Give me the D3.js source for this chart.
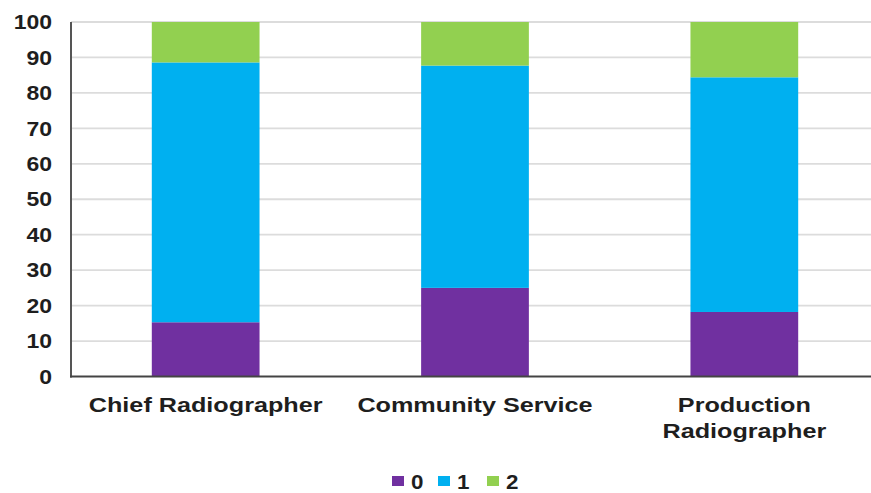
<!DOCTYPE html>
<html>
<head>
<meta charset="utf-8">
<script src="https://cdn.jsdelivr.net/npm/d3@7"></script>
<style>
	body { margin: 0; background: #fff; }
	text { font-family: "Liberation Sans", Arial, sans-serif; font-weight: bold; fill: #1e1e1e; }
</style>
</head>
<body>
<div id="wrapper"></div>
<script>
// Data
const categories = ['Chief Radiographer', 'Community Service', 'Production Radiographer']
const seriesKeys = ['0', '1', '2']
const values0 = [15.3, 25.0, 18.2]
const values1 = [73.3, 62.7, 66.2]
const values2 = [11.4, 12.3, 15.6]
const yTicks = [0, 10, 20, 30, 40, 50, 60, 70, 80, 90, 100]
const colors = ['#7030A0', '#00B0F0', '#92D050']

function drawChart() {
	const dimensions = {
		width: 871,
		height: 493,
		margin: { top: 22, right: -8, bottom: 116.5, left: 71 }
	}
	dimensions.boundedWidth = dimensions.width - dimensions.margin.left - dimensions.margin.right
	dimensions.boundedHeight = dimensions.height - dimensions.margin.top - dimensions.margin.bottom

	// text in the reference is stretched sideways
	const stretch = 1.2

	const rows = categories.map((c, i) => ({
		category: c,
		'0': values0[i],
		'1': values1[i],
		'2': values2[i]
	}))
	const stacked = d3.stack().keys(seriesKeys)(rows)

	const svg = d3.select('#wrapper')
		.append('svg')
			.attr('width', dimensions.width)
			.attr('height', dimensions.height)

	const bounds = svg.append('g')
		.attr('transform', `translate(${dimensions.margin.left},${dimensions.margin.top})`)

	// Scales
	const xScale = d3.scaleBand()
		.domain(categories)
		.range([0, dimensions.boundedWidth])
		.paddingInner(0.6)
		.paddingOuter(0.3)

	const yScale = d3.scaleLinear()
		.domain([0, 100])
		.range([dimensions.boundedHeight, 0])

	// Gridlines
	bounds.append('g')
		.selectAll('line')
		.data(yTicks.filter(d => d > 0))
		.join('line')
			.attr('x1', 0)
			.attr('x2', dimensions.width)
			.attr('y1', d => yScale(d))
			.attr('y2', d => yScale(d))
			.attr('stroke', '#dcdcdc')
			.attr('stroke-width', 1.8)

	// Bars
	bounds.append('g')
		.selectAll('g')
		.data(stacked)
		.join('g')
			.attr('fill', (d, i) => colors[i])
		.selectAll('rect')
		.data(d => d)
		.join('rect')
			.attr('x', d => xScale(d.data.category))
			.attr('width', xScale.bandwidth())
			.attr('y', d => yScale(d[1]))
			.attr('height', d => yScale(d[0]) - yScale(d[1]))

	// Axis lines
	bounds.append('line')
		.attr('x1', 0).attr('x2', 0)
		.attr('y1', yScale(100)).attr('y2', yScale(0) + 1)
		.attr('stroke', '#555').attr('stroke-width', 2)
	bounds.append('line')
		.attr('x1', -1).attr('x2', dimensions.width)
		.attr('y1', yScale(0)).attr('y2', yScale(0))
		.attr('stroke', '#444').attr('stroke-width', 2)

	// Y tick labels
	bounds.append('g')
		.selectAll('text')
		.data(yTicks)
		.join('text')
			.attr('transform', d => `translate(-19,${yScale(d)}) scale(1.15,1)`)
			.attr('dy', '0.36em')
			.attr('text-anchor', 'end')
			.attr('font-size', 20)
			.text(d => d)

	// X labels, wrapped to the band
	const maxWidth = xScale.step() * 0.92 / stretch
	const xLabels = bounds.append('g')
		.selectAll('text')
		.data(categories)
		.join('text')
			.attr('transform', d => `translate(${xScale(d) + xScale.bandwidth() / 2},${yScale(0) + 35}) scale(${stretch},1)`)
			.attr('text-anchor', 'middle')
			.attr('font-size', 21)

	xLabels.each(function(d) {
		const el = d3.select(this)
		const words = d.split(' ')
		let line = []
		let tspan = el.append('tspan').attr('x', 0).attr('dy', 0)
		words.forEach(w => {
			line.push(w)
			tspan.text(line.join(' '))
			if (tspan.node().getComputedTextLength() > maxWidth && line.length > 1) {
				line.pop()
				tspan.text(line.join(' '))
				line = [w]
				tspan = el.append('tspan').attr('x', 0).attr('dy', '1.27em').text(w)
			}
		})
	})

	// Legend
	const legendX = [392, 438, 487]
	const legend = svg.append('g')
		.selectAll('g')
		.data(seriesKeys)
		.join('g')
			.attr('transform', (d, i) => `translate(${legendX[i]},476)`)
	legend.append('rect')
		.attr('width', 12)
		.attr('height', 10)
		.attr('fill', (d, i) => colors[i])
	legend.append('text')
		.attr('transform', `translate(19,12.5) scale(1.12,1)`)
		.attr('font-size', 20)
		.text(d => d)
}
drawChart()
</script>
</body>
</html>
